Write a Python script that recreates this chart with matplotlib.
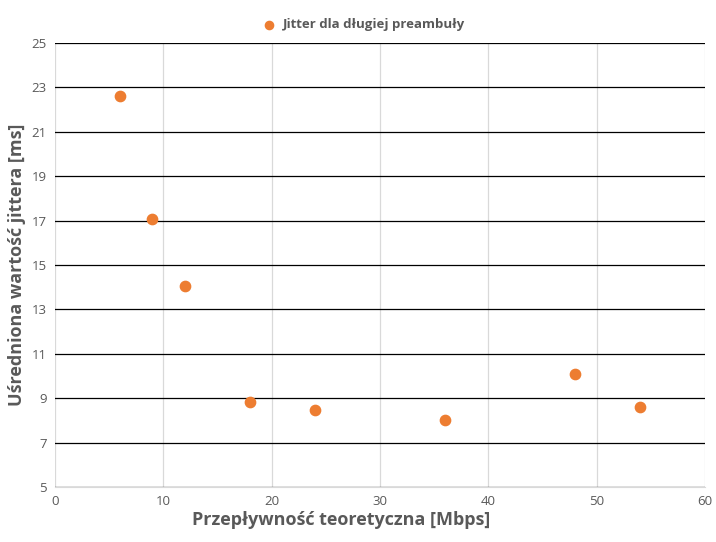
import matplotlib.pyplot as plt

plt.rcParams['font.family'] = ['Open Sans', 'DejaVu Sans']

rate = [6, 9, 12, 18, 24, 36, 48, 54]
jitter = [22.6, 17.05, 14.05, 8.85, 8.45, 8.0, 10.1, 8.6]

fig = plt.figure(figsize=(7.16, 5.42), dpi=100)
ax = fig.add_axes([0.0768, 0.1015, 0.9078, 0.8192])

ax.scatter(rate, jitter, s=55, color="#ED7D31", zorder=3, label="Jitter dla długiej preambuły")

ax.set_xlim(0, 60)
ax.set_ylim(5, 25)
ax.set_xticks(range(0, 61, 10))
ax.set_yticks(range(5, 26, 2))
ax.yaxis.grid(True, color="black", linewidth=0.9)
ax.xaxis.grid(True, color="#D9D9D9", linewidth=0.9)
ax.set_axisbelow(True)
for s in ax.spines.values():
    s.set_visible(False)
ax.spines["bottom"].set_visible(True)
ax.spines["bottom"].set_color("#D9D9D9")
ax.tick_params(length=0, labelsize=9.5, labelcolor="#595959", pad=6)

ax.set_xlabel("Przepływność teoretyczna [Mbps]", fontsize=13, fontweight="bold", color="#595959")
ax.xaxis.set_label_coords(0.44, -0.055)
ax.set_ylabel("Uśredniona wartość jittera [ms]", fontsize=13, fontweight="bold", color="#595959")

ax.legend(loc="lower center", bbox_to_anchor=(0.47, 1.0), frameon=False,
          prop={"size": 9.5, "weight": "bold"},
          handletextpad=0.1, markerscale=0.8, labelcolor="#595959")

fig.savefig("out.png", dpi=100)
